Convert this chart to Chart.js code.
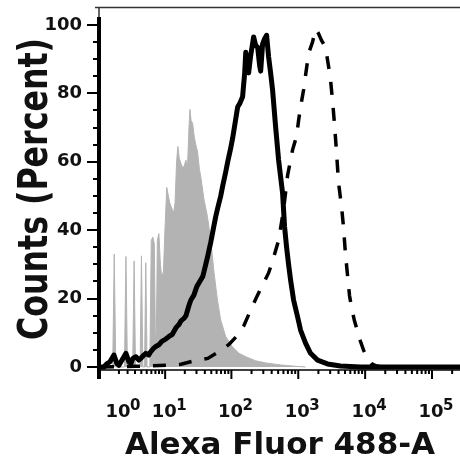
<!DOCTYPE html>
<html><head><meta charset="utf-8">
<script src="https://cdn.jsdelivr.net/npm/chart.js@4.4.1/dist/chart.umd.min.js"></script>
<style>html,body{margin:0;padding:0;background:#fff;}#wrap{width:460px;height:461px;}</style>
</head><body><div id="wrap"><canvas id="c" width="460" height="461"></canvas></div>
<script>
// ---- data (x = fluorescence intensity, y = counts in percent of max) ----
const xTickValues = [1, 10, 100, 1000, 10000, 100000];
const xTickExponents = ['0', '1', '2', '3', '4', '5'];
const yTickValues = [0, 20, 40, 60, 80, 100];

const controlX = [-1.1,0.34,0.5,0.66,1.62,1.8,1.98,2.67,2.87,3.07,3.79,4.02,4.27,4.58,4.82,5.08,5.65,5.98,6.34,6.72,6.97,7.24,7.52,7.96,8.42,8.86,9.4,9.92,10.6,11.2,11.8,12.6,13.5,14.2,15.0,15.7,16.5,17.5,18.8,19.7,20.8,21.9,23.1,23.9,24.9,26.2,27.9,29.3,31.1,33.1,34.8,39.0,43.8,49.1,55.0,61.8,69.2,82.2,103.5,129.8,164,231,325,544,911,1285];
const controlY = [0,0,33,0,0,32.3,0,0,31,0,0,32.5,0,0,30.5,0,0,37,38,36,10,8,37,39,30,26,28,40,52.5,50,48,46.5,45,48,60,64.5,61,59.5,58,59,60.5,58,70,75.3,72,71.3,67,65,63,58,55.6,48.8,44,37,27.5,19.6,13.7,8.9,5.9,4,3,1.8,1.2,0.6,0.2,0];

const solidX = [-0.885,-0.567,-0.255,0.054,0.469,0.785,1.0,1.33,1.8,2.17,2.43,2.7,3.13,3.59,3.92,4.45,4.82,5.43,5.87,6.59,7.11,7.96,8.86,9.92,11.6,12.85,14.7,16.4,17.5,19.4,20.8,23.1,24.7,27.4,30.3,33.6,37.3,41.3,44.3,49.1,54.4,58.3,62.4,69.2,74.2,82.2,88.1,97.6,104.6,116,124,133,147,158,164,175,181,194,215,231,247,265,274,293,314,336,360,386,413,458,508,583,624,669,716,768,851,976,1082,1285,1526,1942,2737,4278,8510,262144];
const solidY = [0,0,1,1.5,3.5,1,0.5,2,4,1.5,1,2.5,3,2,2.5,3.5,4,3.5,4.5,5.5,6,6.5,7.5,8,9,9.5,11.5,12.5,13.5,14.2,15,18,19.6,21,23.5,25,26.5,30,32.5,36.5,41,44,46.5,50,53,57,60,64,67,72.5,76,77,79,86,92,88,86,91,96.5,94,93.5,88,86.5,94.5,96,97,90.7,86,81,70.3,60.5,50.8,41,35,30,25.4,19.6,14.7,10.8,7,4,2,0.9,0.3,0,0];

const dashX = [-0.885,3.13,5.87,10.5,17.5,27.4,44.3,64.6,91.1,120,153,188,239,293,360,413,508,603,692,822,943,1010,1082,1200,1376,1475,1635,1812,2009,2227,2556,2833,3035,3251,3482,3729,3996,4430,4744,5082,5443,5831,6245,6924,7677,8510,9432,10820,12420,14750,18120,262144];
const dashY = [0,0.2,0.3,0.5,0.8,1.8,2.5,4.5,6.5,9,12,16,20.5,24,27.5,31,37,46,56,63.5,67.5,72,76,81,89.5,92.5,95,98.8,97.5,95.5,93.5,88,84,78,71,63,54,47,41,33,27,21,17.5,13.5,10.5,7.5,5,2.5,1,0.3,0,0];

const xTitle = 'Alexa Fluor 488-A';
const yTitle = 'Counts (Percent)';

// ---- biexponential (arcsinh) axis ----
function T(v){ return Math.asinh(v / 3) / Math.LN10; }
function Tinv(t){ return 3 * Math.sinh(t * Math.LN10); }
class BiexScale extends Chart.LinearScale {
  getPixelForValue(value){
    if (value === null || value === undefined || isNaN(value)) return NaN;
    const a = T(this.min), b = T(this.max);
    return this.getPixelForDecimal((T(value) - a) / (b - a));
  }
  getValueForPixel(pixel){
    const a = T(this.min), b = T(this.max);
    return Tinv(a + this.getDecimalForPixel(pixel) * (b - a));
  }
}
BiexScale.id = 'biex';
BiexScale.defaults = Chart.LinearScale.defaults;
Chart.register(BiexScale);

const pts = (xs, ys) => xs.map((x, i) => ({x, y: ys[i]}));
const FONT = '"DejaVu Sans", sans-serif';

const decor = {
  id: 'decor',
  afterDraw(chart){
    const {ctx, chartArea: ca, scales: {x, y}} = chart;
    const line = (x1,y1,x2,y2) => { ctx.beginPath(); ctx.moveTo(x1,y1); ctx.lineTo(x2,y2); ctx.stroke(); };
    ctx.save();
    // frame top
    ctx.strokeStyle = '#333'; ctx.lineWidth = 1.5;
    line(95, ca.top + 0.5, ca.right, ca.top + 0.5);
    line(ca.left, ca.top, ca.left, ca.top + 12);
    // x axis line
    ctx.strokeStyle = '#000'; ctx.lineWidth = 1.5;
    line(ca.left, ca.bottom, ca.right, ca.bottom);
    // y axis line (thick)
    ctx.lineWidth = 4;
    line(ca.left, y.getPixelForValue(102.3), ca.left, ca.bottom + 9);
    // y ticks
    ctx.lineWidth = 2;
    for (let v = 0; v <= 100; v += 5) {
      const py = Math.round(y.getPixelForValue(v));
      const len = (v % 20 === 0) ? 12 : 6;
      line(ca.left - len, py, ca.left, py);
    }
    // x ticks
    for (let k = 0; k <= 5; k++) {
      for (let m = 1; m <= 9; m++) {
        const v = m * Math.pow(10, k);
        if (v > x.max) break;
        const px = x.getPixelForValue(v);
        const len = (m === 1 && k > 0) ? 9 : 4;
        line(px, ca.bottom, px, ca.bottom + len);
      }
    }
    // x tick labels 10^k
    ctx.fillStyle = '#111';
    xTickValues.forEach((v, i) => {
      const px = x.getPixelForValue(v) - 1;
      ctx.font = 'bold 18px ' + FONT; ctx.textAlign = 'center'; ctx.textBaseline = 'alphabetic';
      ctx.fillText('10', px, 417);
      ctx.font = 'bold 15px ' + FONT; ctx.textAlign = 'left';
      ctx.fillText(xTickExponents[i], px + 12, 410);
    });
    // axis titles
    ctx.font = 'bold 31px ' + FONT; ctx.textAlign = 'center'; ctx.textBaseline = 'alphabetic';
    ctx.fillText(xTitle, 280, 454);
    ctx.translate(47, 189); ctx.rotate(-Math.PI / 2);
    ctx.font = 'bold 40px ' + FONT;
    ctx.fillText(yTitle, 0, 0, 302);
    ctx.restore();
  }
};

new Chart(document.getElementById('c'), {
  type: 'line',
  data: {
    datasets: [
      { data: pts(solidX, solidY), borderColor: '#000', borderWidth: 5, fill: false, order: 1, borderJoinStyle: 'round' },
      { data: pts(dashX, dashY), borderColor: '#000', borderWidth: 3.5, borderDash: [13, 13], fill: false, order: 2 },
      { data: pts(controlX, controlY), borderColor: '#b3b3b3', backgroundColor: '#b3b3b3', borderWidth: 1, fill: 'origin', order: 3 }
    ]
  },
  options: {
    responsive: false, animation: false, devicePixelRatio: 1,
    layout: { padding: { top: 7, right: 0, left: 0, bottom: 0 } },
    elements: { point: { radius: 0 }, line: { tension: 0 } },
    plugins: { legend: { display: false }, tooltip: { enabled: false } },
    scales: {
      x: {
        type: 'biex', min: -1.1, max: 262144,
        afterBuildTicks: s => { s.ticks = xTickValues.map(v => ({value: v})); },
        afterFit: s => { s.height = 91; s.paddingLeft = 0; s.paddingRight = 0; s.paddingTop = 0; s.paddingBottom = 0; },
        ticks: { display: false },
        grid: { display: false, drawTicks: false }, border: { display: false }
      },
      y: {
        type: 'linear', min: -0.88, max: 105.26,
        afterBuildTicks: s => { s.ticks = yTickValues.map(v => ({value: v})); },
        afterFit: s => { s.width = 99; s.paddingTop = 0; s.paddingBottom = 0; s.paddingLeft = 0; s.paddingRight = 0; },
        ticks: { padding: 17, color: '#111', font: { family: FONT, size: 18, weight: 'bold' } },
        grid: { display: false, drawTicks: false }, border: { display: false }
      }
    }
  },
  plugins: [decor]
});
</script>
</body></html>
